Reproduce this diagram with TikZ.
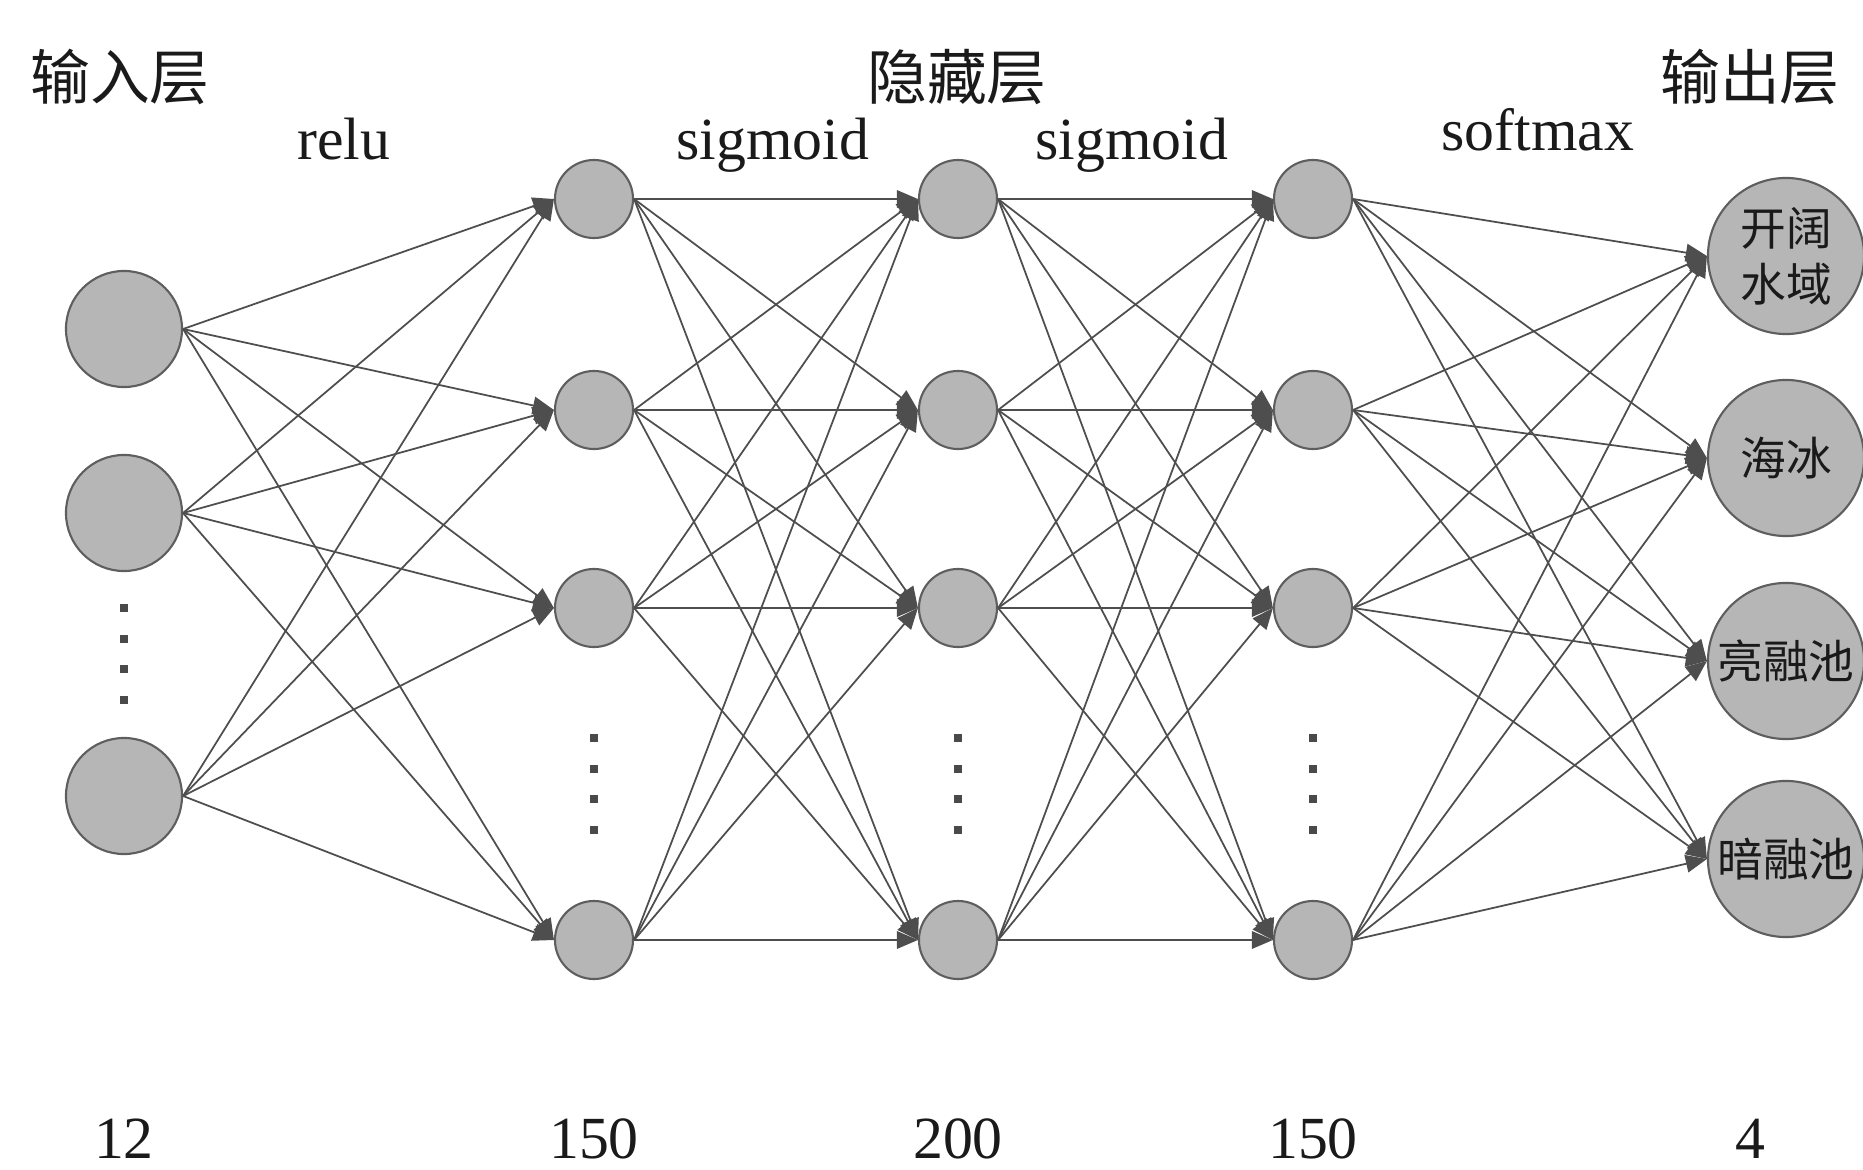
\documentclass[tikz,border=0pt]{standalone}
\usepackage{fontspec}
\setmainfont{Liberation Serif}
\newfontfamily\cjk{Noto Sans CJK SC}
\usetikzlibrary{arrows.meta}

\definecolor{nodefill}{HTML}{B6B6B6}
\definecolor{nodeedge}{HTML}{5E5E5E}
\definecolor{linkcol}{HTML}{4E4E4E}
\definecolor{dotcol}{HTML}{4A4A4A}
\definecolor{txtcol}{HTML}{1A1A1A}

\begin{document}
\begin{tikzpicture}[x=0.01cm, y=-0.01cm,
  neuron/.style={circle, draw=nodeedge, fill=nodefill, line width=0.6pt,
                 inner sep=0pt, minimum size=#1},
  inn/.style={neuron=1.16cm},
  hid/.style={neuron=0.78cm},
  outn/.style={neuron=1.56cm, align=center, text=txtcol,
               font=\cjk\fontsize{13}{16}\selectfont},
  link/.style={draw=linkcol, line width=0.5pt,
               -{Triangle[length=6pt, width=5pt]}},
  header/.style={text=txtcol, font=\cjk\fontsize{17}{20}\selectfont, inner sep=0pt},
  act/.style={text=txtcol, font=\fontsize{17}{20}\selectfont, anchor=base, inner sep=0pt},
  count/.style={text=txtcol, font=\fontsize{17}{20}\selectfont, anchor=base, inner sep=0pt},
  vdot/.style={fill=dotcol}
]
\useasboundingbox (0,0) rectangle (1863,1170);
\clip (0,0) rectangle (1863,1170);

% layer captions
\node[header] (capin)  at (120,77)  {输入层};
\node[header] (caphid) at (957,77)  {隐藏层};
\node[header] (capout) at (1750,77) {输出层};

% activation functions between layers
\node[act] (a1) at (344,160)  {relu};
\node[act] (a2) at (773,160)  {sigmoid};
\node[act] (a3) at (1132,160) {sigmoid};
\node[act] (a4) at (1538,151) {softmax};

% neuron counts
\node[count] (n0) at (124,1158)  {12};
\node[count] (n1) at (594,1158)  {150};
\node[count] (n2) at (958,1158)  {200};
\node[count] (n3) at (1313,1158) {150};
\node[count] (n4) at (1750,1158) {4};

% input layer
\node[inn] (in0) at (124,329) {};
\node[inn] (in1) at (124,513) {};
\node[inn] (in2) at (124,796) {};

% hidden layers
\foreach \name/\x in {ha/594, hb/958, hc/1313} {
  \node[hid] (\name0) at (\x,199) {};
  \node[hid] (\name1) at (\x,410) {};
  \node[hid] (\name2) at (\x,608) {};
  \node[hid] (\name3) at (\x,940) {};
}

% output layer
\node[outn] (out0) at (1786,256) {开阔\\水域};
\node[outn] (out1) at (1786,458) {海冰};
\node[outn] (out2) at (1786,661) {亮融池};
\node[outn] (out3) at (1786,859) {暗融池};

% ellipsis dots
\foreach \y in {608,639,669,700}
  \fill[vdot] (120,\y-4) rectangle (128,\y+4);
\foreach \x in {594,958,1313}
  \foreach \y in {738,769,799,830}
    \fill[vdot] (\x-4,\y-4) rectangle (\x+4,\y+4);

% connections
\foreach \i in {0,1,2}
  \foreach \j in {0,1,2,3}
    \draw[link] (in\i.east) -- (ha\j.west);
\foreach \i in {0,1,2,3}
  \foreach \j in {0,1,2,3} {
    \draw[link] (ha\i.east) -- (hb\j.west);
    \draw[link] (hb\i.east) -- (hc\j.west);
    \draw[link] (hc\i.east) -- (out\j.west);
  }
\end{tikzpicture}
\end{document}
